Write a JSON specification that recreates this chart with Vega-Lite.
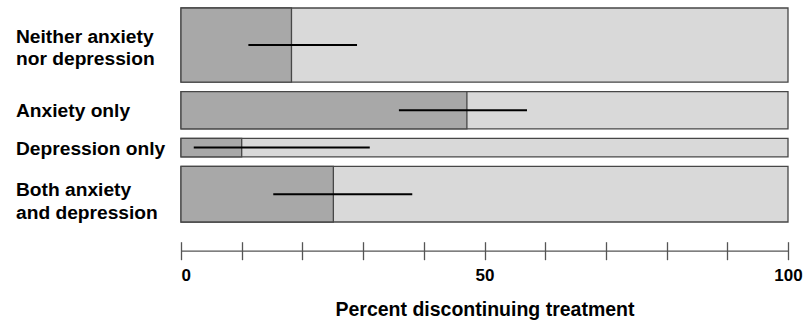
{
  "$schema": "https://vega.github.io/schema/vega-lite/v6.json",
  "width": 607,
  "height": 214,
  "autosize": {"type": "none"},
  "padding": {"left": 181, "top": 8, "right": 18, "bottom": 109},
  "background": "white",
  "config": {"view": {"stroke": null}, "font": "Liberation Sans"},
  "data": {
    "values": [
      {"group": "Neither anxiety\nnor depression", "order": 1, "n": 4, "pct": 18.2, "lo": 11.1, "hi": 29.0},
      {"group": "Anxiety only", "order": 2, "n": 2, "pct": 47.1, "lo": 35.9, "hi": 57.0},
      {"group": "Depression only", "order": 3, "n": 1, "pct": 10.0, "lo": 2.1, "hi": 31.1},
      {"group": "Both anxiety\nand depression", "order": 4, "n": 3, "pct": 25.1, "lo": 15.2, "hi": 38.1}
    ]
  },
  "transform": [
    {"window": [{"op": "row_number", "as": "idx"}], "sort": [{"field": "order", "order": "ascending"}]},
    {"stack": "n", "groupby": [], "sort": [{"field": "order", "order": "ascending"}], "as": ["s0", "s1"]},
    {"calculate": "datum.s0 + (datum.idx - 1) * 0.512", "as": "y0"},
    {"calculate": "datum.s1 + (datum.idx - 1) * 0.512", "as": "y1"},
    {"calculate": "(datum.y0 + datum.y1) / 2", "as": "ym"}
  ],
  "layer": [
    {
      "mark": {"type": "rect", "fill": "#d9d9d9", "stroke": "#474747", "strokeWidth": 1.3},
      "encoding": {
        "x": {"value": 0},
        "x2": {"value": "width"},
        "y": {"field": "y0", "type": "quantitative", "scale": {"reverse": true, "nice": false, "zero": true}, "axis": null},
        "y2": {"field": "y1"}
      }
    },
    {
      "mark": {"type": "rect", "fill": "#a8a8a8", "stroke": "#474747", "strokeWidth": 1.3},
      "encoding": {
        "x": {
          "field": "pct",
          "type": "quantitative",
          "scale": {"domain": [0, 100], "nice": false, "zero": true},
          "axis": {
            "orient": "bottom",
            "offset": 28.7,
            "values": [0, 10, 20, 30, 40, 50, 60, 70, 80, 90, 100],
            "grid": false,
            "tickSize": 9,
            "tickColor": "#555555",
            "tickWidth": 1.3,
            "domainColor": "#555555",
            "domainWidth": 1.3,
            "labelExpr": "datum.value % 50 === 0 ? datum.label : ''",
            "format": "d",
            "labelFont": "Liberation Sans",
            "labelFontSize": 17,
            "labelFontWeight": "bold",
            "labelColor": "black",
            "labelAlign": {"condition": {"test": "datum.value === 0", "value": "left"}, "value": "center"},
            "labelFlush": false,
            "labelOverlap": false,
            "labelPadding": 8,
            "title": "Percent discontinuing treatment",
            "titleFont": "Liberation Sans",
            "titleFontSize": 19.5,
            "titleFontWeight": "bold",
            "titleColor": "black",
            "titlePadding": 16.5,
            "encoding": {
              "ticks": {"y": {"value": -9}, "y2": {"value": 9}}
            }
          }
        },
        "x2": {"value": 0},
        "y": {"field": "y0", "type": "quantitative"},
        "y2": {"field": "y1"}
      }
    },
    {
      "mark": {"type": "rule", "stroke": "black", "strokeWidth": 2},
      "encoding": {
        "x": {"field": "lo", "type": "quantitative"},
        "x2": {"field": "hi"},
        "y": {"field": "ym", "type": "quantitative"}
      }
    },
    {
      "mark": {"type": "text", "align": "left", "baseline": "middle", "dx": -165, "dy": {"expr": "datum.order === 1 ? -8 : datum.order === 4 ? -4 : 1"}, "font": "Liberation Sans", "fontSize": 19.2, "fontWeight": "bold", "lineHeight": 22.4, "lineBreak": "\n", "color": "black"},
      "encoding": {
        "x": {"value": 0},
        "y": {"field": "ym", "type": "quantitative"},
        "text": {"field": "group"}
      }
    }
  ]
}
